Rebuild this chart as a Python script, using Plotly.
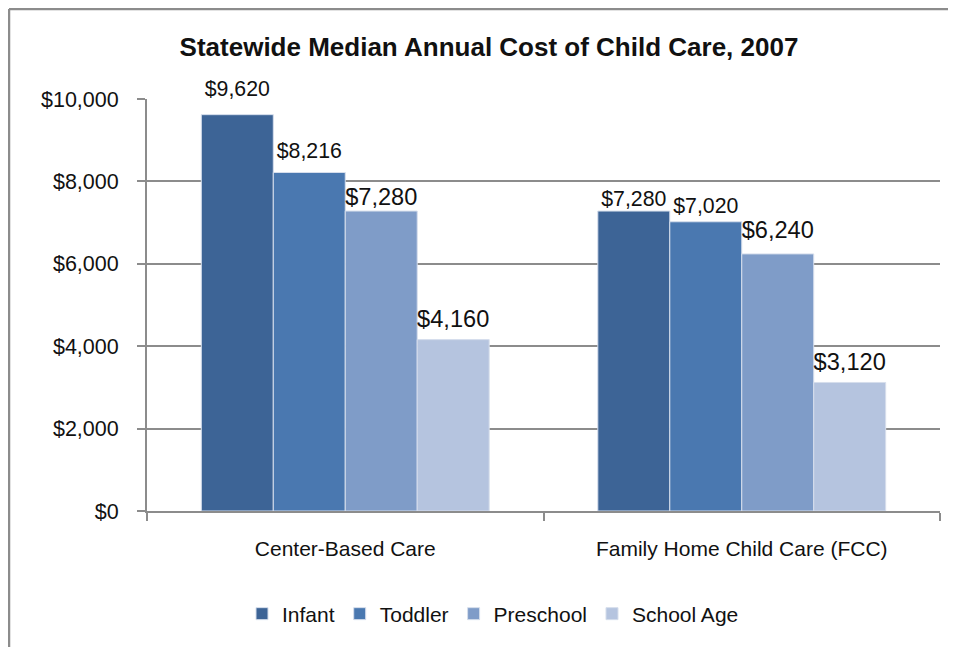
import plotly.graph_objects as go

categories = ["Center-Based Care", "Family Home Child Care (FCC)"]
series_names = ["Infant", "Toddler", "Preschool", "School Age"]
infant = [9620, 7280]
toddler = [8216, 7020]
preschool = [7280, 6240]
school_age = [4160, 3120]
tick_vals = [0, 2000, 4000, 6000, 8000, 10000]
tick_text = ["$0", "$2,000", "$4,000", "$6,000", "$8,000", "$10,000"]

colors = ["#3D6496", "#4A78B0", "#7F9CC8", "#B5C4DF"]
label_sizes = [[21.3, 21.3], [21.3, 21.3], [23.6, 23.6], [23.6, 23.6]]
# invisible marker sizes used only to lift each label above its bar
label_lift = [[20, 0], [13.6, 3.2], [0, 14.4], [9, 9.6]]
FONT = "Liberation Sans, Arial, sans-serif"
GRAY = "#8C8C8C"

# page is drawn with an 8px body offset
OFF = 8
W, H = 956 - OFF, 647 - OFF
L, T = 147 - OFF, 99 - OFF
R = W - (940 - OFF)
B = H - (511 - OFF)
pw, ph = W - L - R, H - T - B

def px_x(p):
    return (p - OFF - L) / pw

def px_y(p):
    return (H - B - (p - OFF)) / ph

fig = go.Figure()
for name, vals, col in zip(series_names, [infant, toddler, preschool, school_age], colors):
    fig.add_trace(go.Bar(
        x=categories, y=vals, name=name,
        marker=dict(color=col, line=dict(color="#D6DEEC", width=1)),
        hoverinfo="x+y+name",
    ))
for name, vals, sz, lift in zip(series_names, [infant, toddler, preschool, school_age], label_sizes, label_lift):
    fig.add_trace(go.Scatter(
        x=categories, y=vals, mode="markers+text", showlegend=False, hoverinfo="skip",
        text=["${:,}".format(v) for v in vals],
        textposition="top center",
        textfont=dict(size=sz, color="#111111", family=FONT),
        marker=dict(size=lift, opacity=0),
        cliponaxis=False,
    ))

fig.update_layout(
    width=W, height=H,
    margin=dict(l=L, r=R, t=T, b=B, autoexpand=False),
    paper_bgcolor="white", plot_bgcolor="white",
    barmode="group", bargap=0.274, bargroupgap=0,
    scattermode="group", scattergap=0.274,
    title=dict(text="<b>Statewide Median Annual Cost of Child Care, 2007</b>",
               x=px_x(489), xanchor="center", xref="paper", y=1 - (47 - OFF) / H, yanchor="middle",
               font=dict(size=26, color="#111111", family=FONT)),
    font=dict(family=FONT, color="#111111"),
    showlegend=True,
    legend=dict(orientation="h", x=px_x(493), xanchor="center",
                yref="container", y=1 - (614 - OFF) / H, yanchor="middle",
                font=dict(size=21, family=FONT, color="#111111"),
                traceorder="normal", itemwidth=30),
    xaxis=dict(showline=True, linecolor=GRAY, linewidth=2, automargin=False,
               ticks="outside", tickson="boundaries", ticklen=8, tickcolor=GRAY, tickwidth=2,
               ticklabelstandoff=18,
               tickfont=dict(size=21, family=FONT, color="#111111"), showgrid=False),
    yaxis=dict(range=[0, 10000], tickvals=tick_vals, ticktext=tick_text, automargin=False,
               showline=True, linecolor=GRAY, linewidth=2,
               ticks="outside", ticklen=8, tickcolor=GRAY, tickwidth=2,
               ticklabelstandoff=14,
               showgrid=True, gridcolor=GRAY, gridwidth=2, zeroline=False,
               tickfont=dict(size=21.5, family=FONT, color="#111111")),
    shapes=[
        dict(type="line", xref="paper", yref="paper", x0=px_x(9), x1=px_x(980), y0=px_y(9), y1=px_y(9),
             line=dict(color=GRAY, width=2.5)),
        dict(type="line", xref="paper", yref="paper", x0=px_x(9), x1=px_x(9), y0=px_y(9), y1=px_y(680),
             line=dict(color=GRAY, width=2.5)),
    ],
)

fig.write_html("out.html")
